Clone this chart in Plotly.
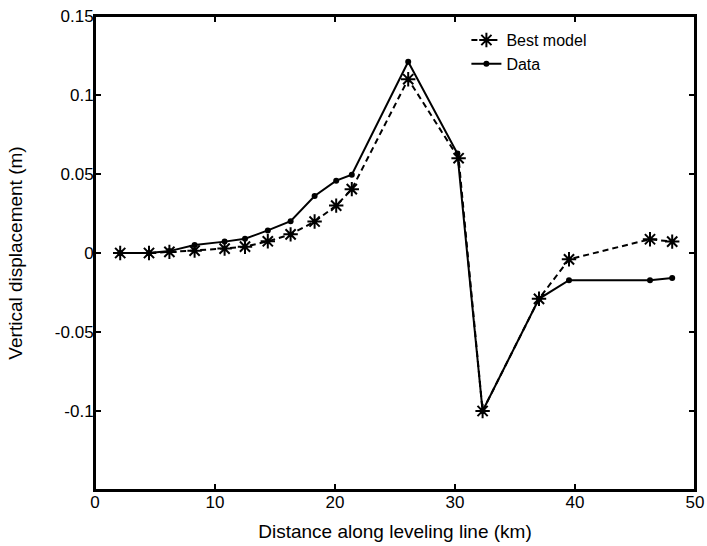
import plotly.graph_objects as go

# Distance along leveling line (km)
x_model = [2.1, 4.5, 6.2, 8.3, 10.8, 12.5, 14.4, 16.3, 18.3, 20.1, 21.4, 26.1, 30.3, 32.3, 37.0, 39.5, 46.25, 48.1]
y_model = [0.0, 0.0, 0.0007, 0.0015, 0.0028, 0.004, 0.0074, 0.0118, 0.0199, 0.030, 0.0404, 0.110, 0.060, -0.100, -0.029, -0.004, 0.0087, 0.0072]

x_data = [2.1, 4.5, 6.2, 8.3, 10.8, 12.5, 14.4, 16.3, 18.3, 20.1, 21.4, 26.1, 30.2, 32.3, 37.0, 39.5, 46.25, 48.1]
y_data = [0.0, 0.0, 0.0012, 0.005, 0.0072, 0.0090, 0.0143, 0.0201, 0.0361, 0.0458, 0.0495, 0.121, 0.063, -0.100, -0.029, -0.0172, -0.0172, -0.0158]

x_ticks = [0, 10, 20, 30, 40, 50]
y_ticks = [-0.1, -0.05, 0, 0.05, 0.1, 0.15]
y_tick_labels = ["-0.1", "-0.05", "0", "0.05", "0.1", "0.15"]

FONT = "Liberation Sans, Arial, sans-serif"

fig = go.Figure()
fig.add_trace(go.Scatter(
    x=x_model, y=y_model, name="Best model", mode="lines+markers",
    line=dict(color="black", width=2, dash="6px,4px"),
    marker=dict(symbol="asterisk-open", size=12, color="black", line=dict(color="black", width=2)),
))
fig.add_trace(go.Scatter(
    x=x_data, y=y_data, name="Data", mode="lines+markers",
    line=dict(color="black", width=2),
    marker=dict(symbol="circle", size=6, color="black"),
))

axis_common = dict(
    showgrid=False, zeroline=False, showline=True, linecolor="black", linewidth=2,
    mirror="allticks", ticks="inside", ticklen=6, tickwidth=1.5, tickcolor="black",
    tickfont=dict(family=FONT, size=17, color="black"), automargin=False,
    ticklabelstandoff=-4, ticklabeloverflow="allow",
)

fig.update_layout(
    width=707, height=546,
    margin=dict(l=95, r=12, t=16, b=56),
    plot_bgcolor="white", paper_bgcolor="white",
    font=dict(family=FONT, size=17, color="black"),
    xaxis=dict(range=[0, 50], tickvals=x_ticks, ticktext=[str(v) for v in x_ticks],
               title=dict(text="Distance along leveling line (km)", standoff=13,
                          font=dict(size=19)), **axis_common),
    yaxis=dict(range=[-0.15, 0.15], tickvals=y_ticks, ticktext=y_tick_labels,
               title=dict(text="Vertical displacement (m)", standoff=27,
                          font=dict(size=19)), **axis_common),
    legend=dict(x=0.619, y=0.985, xanchor="left", yanchor="top",
                bgcolor="rgba(0,0,0,0)", borderwidth=0,
                font=dict(size=16), itemwidth=30, tracegroupgap=0),
    showlegend=True,
    shapes=[dict(type="rect", xref="paper", yref="paper", x0=0, x1=1, y0=0, y1=1,
                 line=dict(color="black", width=2), layer="above")],
)

# remove the default 8px page margin so the figure fills the window exactly
fig.write_html("out.html", config={"displayModeBar": False},
               post_script="document.body.style.margin='0';document.body.style.overflow='hidden';")
